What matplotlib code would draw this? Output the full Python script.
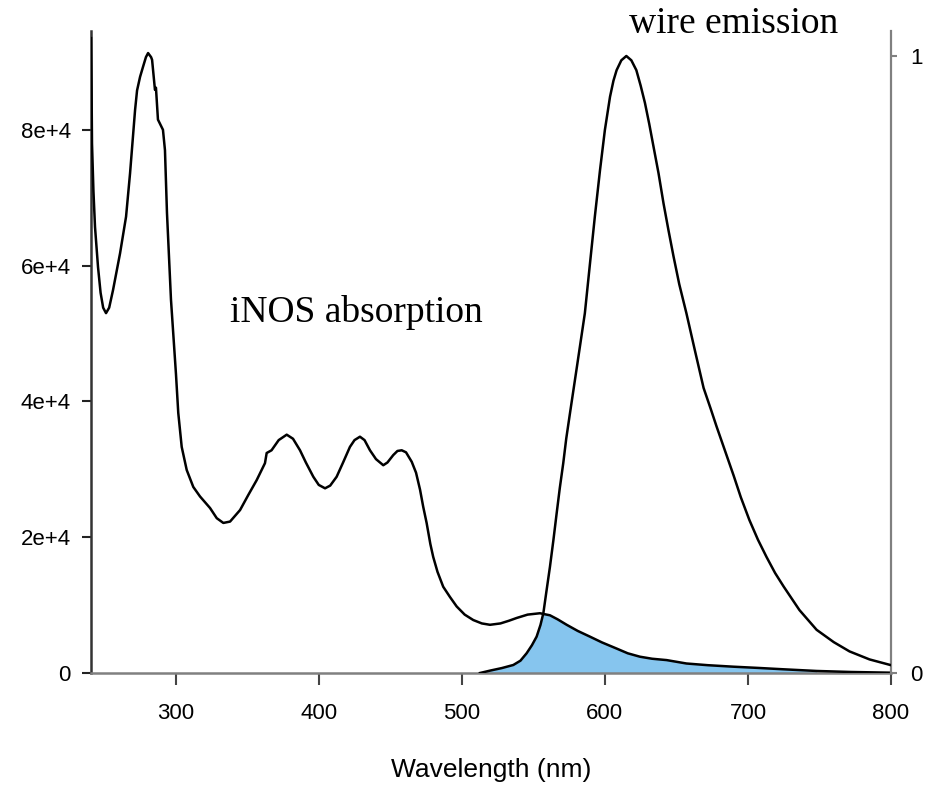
import numpy as np
import matplotlib
matplotlib.use("Agg")
import matplotlib.pyplot as plt

# ---- data ----
abs_wl = [240.8, 241.2, 241.5, 242.5, 243.6, 245.7, 247.5, 249.3, 251.3, 253.5,
          256.2, 261.1, 265.3, 268.1, 271.6, 273.0, 275.1, 277.2, 279.2, 280.7,
          282.8, 283.5, 285.5, 286.2, 287.6, 291.1, 292.5, 293.9, 296.7, 300.2,
          301.8, 304.2, 307.7, 312.3, 317.0, 324.0, 328.7, 333.3, 338.0, 345.0,
          350.7, 356.6, 362.4, 363.6, 367.0, 372.0, 377.6, 382.0, 386.9, 391.0,
          396.2, 400.0, 404.4, 408.0, 412.5, 417.0, 421.8, 425.0, 428.8, 432.0,
          435.8, 440.0, 445.1, 448.0, 452.1, 455.0, 458.0, 461.0, 465.0, 468.0,
          470.8, 473.0, 475.4, 478.0, 480.0, 483.0, 487.0, 491.7, 496.4, 502.0,
          508.0, 514.0, 519.7, 527.0, 533.0, 538.3, 546.0, 554.6, 561.6, 567.0,
          573.3, 581.0, 589.6, 598.0, 608.2, 616.0, 624.5, 633.0, 643.2, 657.0,
          672.0, 689.7, 707.0, 724.5, 748.0, 772.0, 799.0]
abs_val = [93500, 86000, 78000, 71000, 65700, 59800, 56000, 53800, 53000, 53800,
           56400, 61800, 67200, 73600, 82900, 85800, 87800, 89300, 90700, 91300,
           90700, 90300, 85900, 86200, 81500, 80000, 77000, 67800, 55000, 44000,
           38300, 33300, 29900, 27400, 26000, 24300, 22800, 22100, 22300, 24000,
           26200, 28400, 30900, 32400, 32800, 34300, 35100, 34500, 32800, 31000,
           28900, 27700, 27200, 27600, 28900, 31000, 33300, 34300, 34800, 34300,
           32800, 31500, 30600, 31000, 32100, 32700, 32800, 32500, 31100, 29500,
           27000, 24500, 22100, 19000, 17100, 14900, 12700, 11200, 9800, 8600,
           7800, 7300, 7100, 7300, 7700, 8100, 8600, 8800, 8500, 7900,
           7100, 6200, 5350, 4500, 3600, 2900, 2400, 2100, 1900, 1400,
           1150, 930, 750, 550, 300, 150, 50]

em_wl = [512.7, 520.0, 528.0, 536.0, 541.0, 545.3, 549.0, 552.3, 555.0, 557.0,
         559.0, 561.6, 564.0, 566.3, 568.5, 570.9, 573.0, 575.6, 580.5, 586.0,
         589.6, 593.0, 596.6, 600.0, 603.6, 606.0, 608.2, 611.5, 615.0, 618.5,
         622.0, 625.0, 628.0, 631.0, 634.0, 637.5, 641.0, 644.5, 648.0, 652.0,
         657.0, 663.0, 669.0, 674.0, 678.0, 684.0, 690.0, 695.0, 701.0, 707.0,
         713.0, 719.0, 725.0, 736.0, 748.0, 760.0, 771.0, 785.0, 799.5]
em_val = [0.0, 0.004, 0.008, 0.013, 0.02, 0.032, 0.045, 0.059, 0.078, 0.097,
          0.13, 0.172, 0.215, 0.259, 0.30, 0.34, 0.38, 0.421, 0.497, 0.583,
          0.664, 0.74, 0.815, 0.88, 0.934, 0.96, 0.977, 0.993, 1.0, 0.993,
          0.977, 0.952, 0.924, 0.89, 0.853, 0.81, 0.761, 0.717, 0.675, 0.63,
          0.583, 0.522, 0.462, 0.428, 0.400, 0.360, 0.320, 0.285, 0.248, 0.216,
          0.188, 0.162, 0.14, 0.102, 0.07, 0.05, 0.035, 0.022, 0.013]

overlap_range = (512.7, 748.0)

x_ticks = [300, 400, 500, 600, 700, 800]
y_ticks = [0, 20000, 40000, 60000, 80000]
y_tick_labels = ["0", "2e+4", "4e+4", "6e+4", "8e+4"]
y2_ticks = [0, 1]
y2_tick_labels = ["0", "1"]

# ---- figure ----
W, H = 933, 789
fig = plt.figure(figsize=(W / 100, H / 100), dpi=100)
ax = fig.add_axes([91 / W, 1 - 673 / H, 800 / W, 642 / H])
ax2 = ax.twinx()

xlim = (240.8, 800)
ylim1 = (0, 94550)
ylim2 = (0, 1.0405)
ax.set_xlim(*xlim)
ax.set_ylim(*ylim1)
ax2.set_ylim(*ylim2)

sans = "Liberation Sans"
serif = "Liberation Serif"

# overlap fill (in left-axis units)
scale = ylim1[1] / ylim2[1]
grid = np.array(sorted(set([w for w in abs_wl + em_wl
                            if overlap_range[0] <= w <= overlap_range[1]])))
a_i = np.interp(grid, abs_wl, abs_val)
e_i = np.interp(grid, em_wl, em_val) * scale
ax.fill_between(grid, 0, np.minimum(a_i, e_i), color="#86C5EE", lw=0, zorder=1)

ax.plot(abs_wl, abs_val, color="black", lw=1.8, zorder=3,
        solid_joinstyle="round")
ax2.plot(em_wl, em_val, color="black", lw=1.8, zorder=3,
         solid_joinstyle="round")

# spines
for s in ["top", "right"]:
    ax.spines[s].set_visible(False)
for s in ["top", "left", "bottom"]:
    ax2.spines[s].set_visible(False)
ax.spines["left"].set_color("#333333")
ax.spines["left"].set_linewidth(1.8)
ax.spines["bottom"].set_color("#808080")
ax.spines["bottom"].set_linewidth(1.8)
ax2.spines["right"].set_color("#808080")
ax2.spines["right"].set_linewidth(1.6)

ax.set_xticks(x_ticks)
ax.set_xticklabels([str(t) for t in x_ticks], fontfamily=sans, fontsize=16)
ax.set_yticks(y_ticks)
ax.set_yticklabels(y_tick_labels, fontfamily=sans, fontsize=16)
ax.tick_params(axis="y", direction="out", length=6.5, width=1.5, color="#222222", pad=8)
ax.tick_params(axis="x", direction="out", length=8.5, width=1.5, color="#444444", pad=13)

ax2.set_yticks(y2_ticks)
ax2.set_yticklabels(y2_tick_labels, fontfamily=sans, fontsize=16)
ax2.tick_params(axis="y", direction="out", length=4.5, width=1.5, color="#808080", pad=9)

ax.set_xlabel("Wavelength (nm)", fontfamily=sans, fontsize=19)
ax.xaxis.set_label_coords(0.5, (673 - 770) / 642)
ax.xaxis.label.set_va("center")

fig.text(356.7 / W, 1 - 321.7 / H, "iNOS absorption", fontfamily=serif,
         fontsize=27, ha="center", va="baseline")
fig.text(734 / W, 1 - 33 / H, "wire emission", fontfamily=serif,
         fontsize=27, ha="center", va="baseline")

fig.savefig("out.png", dpi=100)
